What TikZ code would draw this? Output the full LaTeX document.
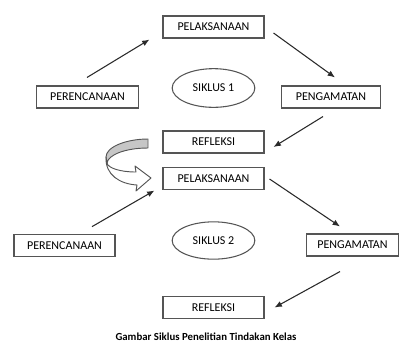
\documentclass[tikz,border=0pt]{standalone}
\usepackage{fontspec}
\setmainfont{Carlito}
\usetikzlibrary{shapes.geometric,arrows.meta,calc}
\definecolor{edge}{HTML}{555555}
\definecolor{arr}{HTML}{2A2A2A}
\tikzset{
  stagebox/.style={draw=edge, line width=0.8pt, minimum width=75.75pt, minimum height=16.5pt, inner sep=0pt, font=\fontsize{9}{10}\selectfont},
  cyclebox/.style={draw=edge, line width=0.8pt, ellipse, minimum width=62pt, minimum height=29pt, inner sep=0pt, font=\fontsize{9}{10}\selectfont},
  flowarrow/.style={draw=arr, line width=0.8pt, -{Latex[length=5.5pt,width=4.5pt]}},
  ribbon/.style={draw=edge, line width=0.7pt, line join=round}
}
\begin{document}
\begin{tikzpicture}[x=0.75pt,y=-0.75pt]
\path[use as bounding box] (0,0) rectangle (400,344);
% cycle 1
\node[stagebox] (pel1) at (213.5,27) {PELAKSANAAN};
\node[stagebox, minimum width=76pt] (per1) at (87.5,97) {PERENCANAAN};
\node[cyclebox] (sik1) at (213.5,88) {SIKLUS 1};
\node[stagebox, minimum width=74.5pt] (pen1) at (331,97) {PENGAMATAN};
\node[stagebox] (ref1) at (213.5,142) {REFLEKSI};
% cycle 2
\node[stagebox] (pel2) at (213.5,178.5) {PELAKSANAAN};
\node[stagebox, minimum height=17pt] (per2) at (64.5,245.5) {PERENCANAAN};
\node[cyclebox, minimum height=28pt] (sik2) at (213.5,240.5) {SIKLUS 2};
\node[stagebox, minimum width=68.5pt] (pen2) at (352.5,245) {PENGAMATAN};
\node[stagebox, minimum height=17pt] (ref2) at (213.5,307.5) {REFLEKSI};
% caption
\node[font=\bfseries\fontsize{8.1}{9}\selectfont] (cap) at (206,337) {Gambar Siklus Penelitian Tindakan Kelas};
% arrows cycle 1
\draw[flowarrow] ($(per1.north)+(-0.5,-8)$) -- ($(pel1.south west)+(-13,1)$);
\draw[flowarrow] ($(pel1.east)+(9,6)$) -- ($(pen1.north)+(4,-8)$);
\draw[flowarrow] ($(pen1.south)+(-8,8)$) -- ($(ref1.east)+(9,5)$);
% arrows cycle 2
\draw[flowarrow] ($(per2.north)+(27.5,-7)$) -- ($(pel2.south west)+(-8,0.5)$);
\draw[flowarrow] ($(pel2.east)+(5,0.5)$) -- ($(pen2.north)+(-12.5,-7)$);
\draw[flowarrow] ($(pen2.south)+(-12.5,15)$) -- ($(ref2.east)+(10,0)$);
% curved block arrow from REFLEKSI to PELAKSANAAN
\path[ribbon, fill=gray!45] (148,139) .. controls (126,139) and (106,147) .. (106,157)
  -- (107,163) .. controls (108,155) and (125,148) .. (148,148) -- cycle;
\path[ribbon, fill=white] (106,157) .. controls (105,175) and (120,184) .. (137,185)
  -- (136,191) -- (151,178) -- (135,166) -- (136,172)
  .. controls (120,172) and (108,168) .. (107,163) -- cycle;
\end{tikzpicture}
\end{document}
